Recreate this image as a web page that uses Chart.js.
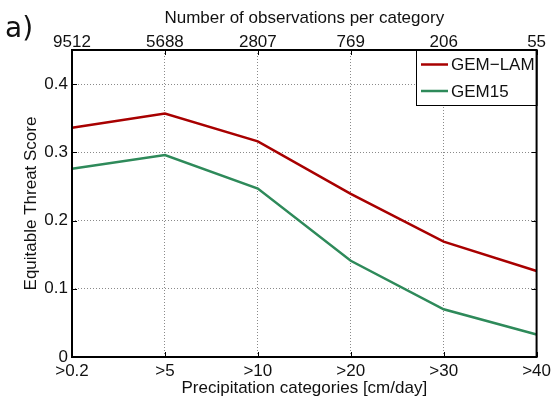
<!DOCTYPE html>
<html><head><meta charset="utf-8">
<script src="https://cdn.jsdelivr.net/npm/chart.js@4/dist/chart.umd.min.js"></script>
<style>html,body{margin:0;padding:0;background:#fff;}canvas{display:block;}</style>
</head><body>
<canvas id="c" width="555" height="402"></canvas>
<script>
const categories = ['>0.2', '>5', '>10', '>20', '>30', '>40'];
const observations = ['9512', '5688', '2807', '769', '206', '55'];
const gemLam = [0.336, 0.357, 0.316, 0.239, 0.169, 0.126];
const gem15 = [0.276, 0.296, 0.247, 0.141, 0.070, 0.033];
const yTicks = [0, 0.1, 0.2, 0.3, 0.4];

const FONT = "'Liberation Sans', Arial, Helvetica, sans-serif";
const FS = 17;
const RED = '#a80000';
const GREEN = '#2e8a5a';

const framePlugin = {
  id: 'frame',
  afterDatasetsDraw(chart) {
    const ctx = chart.ctx, a = chart.chartArea;
    const xs = chart.scales.x, ys = chart.scales.y;
    ctx.save();
    ctx.strokeStyle = '#000';
    ctx.lineWidth = 1;
    const tl = 5;
    ctx.beginPath();
    categories.forEach((c, i) => {
      const px = Math.round(xs.getPixelForValue(i)) + 0.5;
      ctx.moveTo(px, a.bottom); ctx.lineTo(px, a.bottom - tl);
      ctx.moveTo(px, a.top); ctx.lineTo(px, a.top + tl);
    });
    yTicks.forEach(v => {
      const py = Math.round(ys.getPixelForValue(v)) + 0.5;
      ctx.moveTo(a.left, py); ctx.lineTo(a.left + tl, py);
      ctx.moveTo(a.right, py); ctx.lineTo(a.right - tl, py);
    });
    ctx.stroke();
    // legend box
    const lx = 416, ly = 50, lw = a.right - 416, lh = 55;
    ctx.fillStyle = '#fff';
    ctx.fillRect(lx, ly, lw, lh);
    ctx.lineWidth = 1;
    ctx.strokeRect(lx + 0.5, ly + 0.5, lw, lh);
    chart.data.datasets.forEach((ds, i) => {
      const yy = 64.5 + i * 26.5;
      ctx.strokeStyle = ds.borderColor;
      ctx.lineWidth = 2.5;
      ctx.beginPath(); ctx.moveTo(421, yy); ctx.lineTo(448, yy); ctx.stroke();
      ctx.fillStyle = '#111';
      ctx.font = FS + 'px ' + FONT;
      ctx.textBaseline = 'middle';
      ctx.textAlign = 'left';
      ctx.fillText(ds.label, 451, yy + 1);
    });
    // frame
    ctx.strokeStyle = '#000';
    ctx.lineWidth = 2;
    ctx.strokeRect(a.left, a.top, a.right - a.left, a.bottom - a.top);
    // panel label
    ctx.fillStyle = '#111';
    ctx.font = '28px "DejaVu Sans", sans-serif';
    ctx.textBaseline = 'alphabetic';
    ctx.textAlign = 'left';
    ctx.fillText('a)', 5, 37);
    ctx.restore();
  }
};

new Chart(document.getElementById('c'), {
  type: 'line',
  data: {
    labels: categories,
    datasets: [
      { label: 'GEM\u2212LAM', data: gemLam, borderColor: RED, borderWidth: 2.5, pointRadius: 0, tension: 0, fill: false },
      { label: 'GEM15', data: gem15, borderColor: GREEN, borderWidth: 2.5, pointRadius: 0, tension: 0, fill: false }
    ]
  },
  options: {
    responsive: false,
    animation: false,
    devicePixelRatio: 1,
    layout: { padding: { left: 0, right: 14, top: 0, bottom: 0 } },
    plugins: { legend: { display: false }, tooltip: { enabled: false } },
    scales: {
      x: {
        type: 'category', position: 'bottom', offset: false,
        grid: { color: '#8a8a8a', lineWidth: 1, drawTicks: false },
        border: { display: false, dash: [1, 2] },
        ticks: { color: '#111', font: { family: FONT, size: FS }, padding: 4, maxRotation: 0, autoSkip: false },
        title: { display: true, text: 'Precipitation categories [cm/day]', color: '#111', font: { family: FONT, size: FS }, padding: { top: 0, bottom: 3 } },
        afterFit(s) { s.height = 45; }
      },
      x2: {
        type: 'category', position: 'top', labels: observations, offset: false,
        grid: { display: false, drawTicks: false },
        border: { display: false },
        ticks: { color: '#111', font: { family: FONT, size: FS }, padding: -3, maxRotation: 0, autoSkip: false },
        title: { display: true, text: 'Number of observations per category', color: '#111', font: { family: FONT, size: FS }, padding: { top: 8, bottom: 0 } },
        afterFit(s) { s.height = 50; }
      },
      y: {
        min: 0, max: 0.45,
        grid: { color: '#8a8a8a', lineWidth: 1, drawTicks: false },
        border: { display: false, dash: [1, 2] },
        afterBuildTicks(s) { s.ticks = yTicks.map(v => ({ value: v })); },
        ticks: { color: '#111', font: { family: FONT, size: FS }, padding: 4,
          callback: v => String(Math.round(v * 10) / 10) },
        title: { display: true, text: 'Equitable Threat Score', color: '#111', font: { family: FONT, size: FS }, padding: { top: 21, bottom: 0 } },
        afterFit(s) { s.width = 72; }
      }
    }
  },
  plugins: [framePlugin]
});
</script>
</body></html>
